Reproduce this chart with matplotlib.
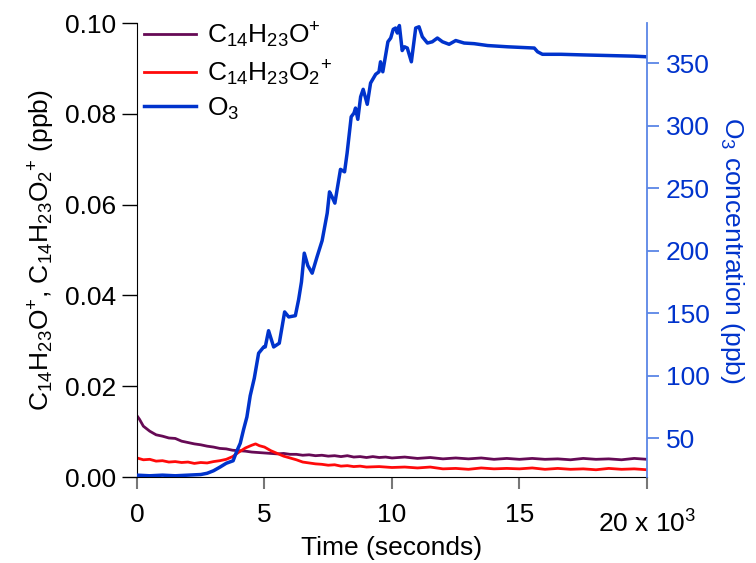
import numpy as np
import matplotlib.pyplot as plt

plt.rcParams['font.family'] = 'Liberation Sans'
plt.rcParams['mathtext.fontset'] = 'custom'
plt.rcParams['mathtext.rm'] = 'Liberation Sans'
plt.rcParams['mathtext.it'] = 'Liberation Sans:italic'
plt.rcParams['font.size'] = 19

# O3 concentration (ppb) vs time (s)
o3_t = [0, 500, 1000, 1500, 2000, 2500, 2750, 3000, 3260, 3500, 3770, 3920, 4050, 4180,
        4310, 4440, 4600, 4770, 4970, 5030, 5160, 5360, 5580, 5790, 5950, 6210, 6340,
        6450, 6560, 6700, 6870, 7060, 7260, 7460, 7550, 7650, 7760, 7980, 8140, 8240,
        8400, 8510, 8570, 8660, 8770, 8870, 9030, 9160, 9360, 9490, 9550, 9640, 9840,
        9950, 10050, 10140, 10210, 10290, 10400, 10490, 10600, 10760, 10930, 11060,
        11190, 11390, 11580, 11780, 11980, 12240, 12500, 12830, 13220, 13750, 14530,
        15580, 15710, 15900, 16630, 17500, 18500, 19500, 20000]
o3_v = [20.5, 20, 20.5, 20, 20.5, 21, 22, 24, 27, 30, 32, 40, 46, 57,
        67, 84, 98, 118, 123, 123, 136, 123, 126, 151, 147, 148, 161,
        175, 198, 188, 182, 195, 208, 230, 247, 243, 238, 265, 263, 278,
        307, 310, 314, 305, 323, 329, 317, 334, 341, 343, 351, 343, 367,
        370, 377, 378, 374, 380, 360, 363, 362, 351, 378, 379,
        371, 366, 367, 370, 367, 365, 368, 366, 365.5, 364, 363,
        362, 359, 357, 357, 356.5, 356, 355.5, 355]

# C14H23O+ (ppb)
p1_t = [0, 100, 250, 500, 750, 1000, 1250, 1500, 1750, 2000, 2250, 2500, 2750, 3000,
        3250, 3500, 3750, 4000, 4250, 4500, 4750, 5000, 5250, 5500, 5750, 6000, 6250,
        6500, 6750, 7000, 7250, 7500, 7750, 8000, 8250, 8500, 8750, 9000, 9250, 9500,
        9750, 10000, 10500, 11000, 11500, 12000, 12500, 13000, 13500, 14000, 14500,
        15000, 15500, 16000, 16500, 17000, 17500, 18000, 18500, 19000, 19500, 20000]
p1_v = [0.0135, 0.0127, 0.0112, 0.0101, 0.0093, 0.0090, 0.0086, 0.0085, 0.0079, 0.0076,
        0.0073, 0.0071, 0.0068, 0.0066, 0.0063, 0.0062, 0.0059, 0.0058, 0.0057, 0.0055,
        0.0054, 0.0053, 0.0052, 0.0051, 0.0052, 0.0050, 0.0050, 0.0048, 0.0049, 0.0047,
        0.0048, 0.0046, 0.0047, 0.0045, 0.0047, 0.0044, 0.0045, 0.0043, 0.0045, 0.0043,
        0.0044, 0.0042, 0.0044, 0.0041, 0.0043, 0.0040, 0.0042, 0.0040, 0.0042, 0.0039,
        0.0041, 0.0039, 0.0041, 0.0039, 0.0040, 0.0038, 0.0041, 0.0039, 0.0040, 0.0038,
        0.0041, 0.0039]

# C14H23O2+ (ppb)
p2_t = [0, 250, 500, 750, 1000, 1250, 1500, 1750, 2000, 2250, 2500, 2750, 3000, 3250,
        3500, 3750, 4000, 4250, 4500, 4650, 4800, 5000, 5250, 5500, 5750, 6000, 6250,
        6500, 6750, 7000, 7250, 7500, 7750, 8000, 8250, 8500, 8750, 9000, 9500, 10000,
        10500, 11000, 11500, 12000, 12500, 13000, 13500, 14000, 14500, 15000, 15500,
        16000, 16500, 17000, 17500, 18000, 18500, 19000, 19500, 20000]
p2_v = [0.0042, 0.0038, 0.0039, 0.0035, 0.0036, 0.0033, 0.0034, 0.0032, 0.0033, 0.0030,
        0.0032, 0.0031, 0.0034, 0.0036, 0.0039, 0.0045, 0.0055, 0.0064, 0.0070, 0.0073,
        0.0069, 0.0066, 0.0058, 0.0052, 0.0046, 0.0042, 0.0038, 0.0033, 0.0031, 0.0029,
        0.0028, 0.0026, 0.0027, 0.0024, 0.0025, 0.0023, 0.0024, 0.0022, 0.0023, 0.0021,
        0.0022, 0.0020, 0.0022, 0.0018, 0.0019, 0.0017, 0.0020, 0.0018, 0.0019, 0.0018,
        0.0020, 0.0017, 0.0019, 0.0017, 0.0018, 0.0016, 0.0019, 0.0017, 0.0018, 0.0016]

xticks = [0, 5000, 10000, 15000, 20000]
xlabels = ['0', '5', '10', '15', '']
last_label = r'20 x 10$^{3}$'

purple = '#660a55'
red = '#ff0a0a'
blue = '#0033cc'
light_blue = '#5a86e6'

fig = plt.figure(figsize=(7.56, 5.63), dpi=100)
ax = fig.add_axes([0.1812, 0.1527, 0.6746, 0.8064])
ax2 = ax.twinx()

l1, = ax.plot(p1_t, p1_v, color=purple, lw=2.0)
l2, = ax.plot(p2_t, p2_v, color=red, lw=2.0)
l3, = ax2.plot(o3_t, o3_v, color=blue, lw=2.5)

ax.set_xlim(0, 20000)
ax.set_ylim(0, 0.10)
ax2.set_ylim(19, 382)
ax.set_yticks([0, 0.02, 0.04, 0.06, 0.08, 0.10])
ax.set_yticklabels(['0.00', '0.02', '0.04', '0.06', '0.08', '0.10'])
ax.set_xticks(xticks)
ax.set_xticklabels(xlabels)
ax2.set_yticks([50, 100, 150, 200, 250, 300, 350])

# the "20 x 10^3" label sits a little lower than the other tick labels
ax.annotate(last_label, xy=(xticks[-1], 0), xycoords=('data', 'axes fraction'),
            xytext=(0, -40), textcoords='offset points', ha='center', va='baseline',
            annotation_clip=False)

for a in (ax, ax2):
    a.spines['top'].set_visible(False)
ax.spines['right'].set_visible(False)
ax2.spines['left'].set_visible(False)
ax2.spines['bottom'].set_visible(False)
ax2.spines['right'].set_color(light_blue)
ax2.spines['right'].set_linewidth(1.3)

ax.tick_params(axis='y', direction='out', length=11, width=1, pad=4)
ax.tick_params(axis='x', direction='out', length=8.5, width=1.5, color='#777777', pad=10)
ax2.tick_params(axis='y', direction='out', length=8.5, width=1.3, color=light_blue,
                labelcolor=blue, pad=5)

ax.set_xlabel('Time (seconds)', labelpad=7)
ax.set_ylabel(r'C$_{14}$H$_{23}$O$^{+}$, C$_{14}$H$_{23}$O$_{2}$$^{+}$ (ppb)', labelpad=6)
ax2.set_ylabel(r'O$_{3}$ concentration (ppb)', color=blue, rotation=270, labelpad=26)

ax2.legend([l1, l2, l3],
           [r'C$_{14}$H$_{23}$O$^{+}$', r'C$_{14}$H$_{23}$O$_{2}$$^{+}$', r'O$_{3}$'],
           loc='upper left', bbox_to_anchor=(-0.018, 1.04), frameon=False,
           handlelength=2.0, handletextpad=0.4, labelspacing=0.3, borderaxespad=0.2)

fig.savefig('out.png', dpi=100)
